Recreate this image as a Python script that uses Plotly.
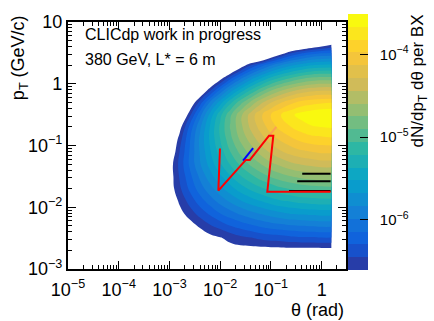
import math
import plotly.graph_objects as go

# ---------------- data ----------------
# grid of the 2D histogram: log10(theta) columns and log10(pT) rows
log_theta = [-3.0, -2.8, -2.6, -2.4, -2.2, -2.0, -1.8, -1.6, -1.4, -1.2,
             -1.0, -0.8, -0.6, -0.4, -0.2, 0.0, 0.196]
log_pt = [0.9, 0.7, 0.5, 0.3, 0.1, -0.1, -0.3, -0.5, -0.7, -0.9,
          -1.1, -1.3, -1.5, -1.7, -1.9, -2.1, -2.3, -2.5, -2.7, -2.9]

# density, in units of colour-band steps above the
# lowest palette level (negative = below threshold, i.e. empty)
density_level = [
    [-5, -5, -5, -5, -5, -5, -5, -5, -5, -5, -5, -5, -5, -5, -5, -5, -5],
    [-5, -5, -5, -5, -5, -5, -5, -5, -5, -5, -5, -5, -5, -4.6, -3.9, -2.8, -1.6],
    [-5, -5, -5, -5, -5, -5, -5, -5, -5, -4.7, -2.5, -0.7, 0.8, 1.8, 2.5, 2.9, 3.0],
    [-5, -5, -5, -5, -5, -5, -3.2, -1.0, 0.9, 2.5, 3.9, 5.0, 5.9, 6.5, 7.0, 7.2, 7.3],
    [-5, -5, -5, -5, -3.3, -0.8, 1.5, 3.5, 5.3, 6.8, 8.1, 9.1, 9.9, 10.6, 11.0, 11.2, 11.2],
    [-5, -5, -5, -2.1, 0.7, 3.1, 5.4, 7.3, 9.0, 10.5, 11.8, 12.8, 13.6, 14.2, 14.6, 14.8, 14.8],
    [-5, -4.7, -1.5, 1.4, 4.1, 6.5, 8.7, 10.6, 12.2, 13.7, 14.9, 15.9, 16.7, 17.3, 17.6, 17.8, 17.9],
    [-5, -2.5, 0.7, 3.6, 6.3, 8.7, 10.8, 12.7, 14.4, 15.8, 17.0, 18.0, 18.8, 19.4, 19.7, 19.9, 20.0],
    [-3.5, -0.5, 2.3, 4.8, 7.1, 9.2, 11.1, 12.7, 14.2, 15.4, 16.5, 17.4, 18.0, 18.5, 18.9, 19.0, 19.1],
    [-2.1, 0.5, 2.9, 5.2, 7.2, 9.0, 10.7, 12.2, 13.4, 14.5, 15.5, 16.2, 16.8, 17.3, 17.6, 17.7, 17.8],
    [-1.4, 1.0, 3.1, 5.1, 6.9, 8.5, 10.0, 11.3, 12.4, 13.4, 14.2, 14.9, 15.4, 15.8, 16.0, 16.2, 16.2],
    [-0.7, 1.3, 3.2, 4.9, 6.4, 7.9, 9.1, 10.2, 11.2, 12.0, 12.8, 13.3, 13.8, 14.1, 14.3, 14.5, 14.5],
    [-0.7, 1.1, 2.7, 4.2, 5.6, 6.8, 7.9, 8.9, 9.7, 10.5, 11.1, 11.6, 12.0, 12.3, 12.5, 12.6, 12.6],
    [-0.7, 0.8, 2.2, 3.5, 4.6, 5.7, 6.6, 7.5, 8.2, 8.8, 9.3, 9.8, 10.1, 10.4, 10.5, 10.6, 10.7],
    [-1.1, 0.2, 1.4, 2.5, 3.5, 4.4, 5.2, 5.9, 6.5, 7.0, 7.5, 7.9, 8.1, 8.4, 8.5, 8.6, 8.6],
    [-1.5, -0.4, 0.5, 1.4, 2.2, 3.0, 3.6, 4.2, 4.7, 5.1, 5.5, 5.8, 6.1, 6.2, 6.3, 6.4, 6.4],
    [-2.1, -1.3, -0.5, 0.2, 0.9, 1.4, 2.0, 2.4, 2.8, 3.2, 3.5, 3.7, 3.9, 4.0, 4.1, 4.2, 4.2],
    [-2.5, -1.9, -1.4, -0.9, -0.4, -0.1, 0.3, 0.7, 0.9, 1.2, 1.4, 1.5, 1.7, 1.8, 1.8, 1.9, 1.9],
    [-3, -3, -3, -3, -3, -3, -0.5, -0.5, -0.5, -0.5, -0.5, -0.5, -0.5, -0.5, -0.5, -0.5, -0.5],
    [-3, -3, -3, -3, -3, -3, -3, -3, -3, -3, -3, -3, -3, -3, -3, -3, -3],
]

# colour-axis range, log10(dN/dpT dtheta per BX)
log_z_min = -6.608
log_z_max = -3.514
n_contours = 20
colorbar_major = [-6, -5, -4]
colorbar_labels = ["10<sup>\u22126</sup>", "10<sup>\u22125</sup>", "10<sup>\u22124</sup>"]

# overlaid lines (theta, pT)
red_theta = [0.0099, 0.0092, 0.032, 0.0384, 0.0918, 0.1114, 0.0849, 1.5]
red_pt = [0.0893, 0.0186, 0.0585, 0.0585, 0.1445, 0.1445, 0.0179, 0.0179]
blue_theta = [0.0283, 0.0445]
blue_pt = [0.0569, 0.0904]
orange_theta = [0.0918, 0.128]
orange_pt = [0.1445, 0.200]
black_theta_start = [0.414, 0.330, 0.227]
black_theta_end = [1.5, 1.5, 1.5]
black_pt = [0.0349, 0.0264, 0.0184]

# ---------------- palette (ROOT kBird) ----------------
stops = [0.0, 0.125, 0.25, 0.375, 0.5, 0.625, 0.75, 0.875, 1.0]
red = [0.2082, 0.0592, 0.0780, 0.0232, 0.1802, 0.5301, 0.8186, 0.9956, 0.9764]
green = [0.1664, 0.3599, 0.5041, 0.6419, 0.7178, 0.7492, 0.7328, 0.7862, 0.9832]
blue = [0.5293, 0.8684, 0.8385, 0.7914, 0.6425, 0.4662, 0.3499, 0.1968, 0.0539]


def bird(f):
    for i in range(len(stops) - 1):
        if f <= stops[i + 1]:
            t = (f - stops[i]) / (stops[i + 1] - stops[i])
            r = red[i] + t * (red[i + 1] - red[i])
            g = green[i] + t * (green[i + 1] - green[i])
            b = blue[i] + t * (blue[i + 1] - blue[i])
            return "rgb(%d,%d,%d)" % (round(r * 255), round(g * 255), round(b * 255))
    return "rgb(249,251,14)"


band_colors = []
for k in range(n_contours):
    idx = int((k + 0.99) * 255 / n_contours)
    band_colors.append(bird(idx / 255))

step = (log_z_max - log_z_min) / n_contours

# contour colourscale: position 0 -> below lowest level (transparent)
contour_scale = [[0.0, "rgba(255,255,255,0)"]]
for k, c in enumerate(band_colors):
    contour_scale.append([(k + 1) / n_contours, c])

bar_scale = []
for k, c in enumerate(band_colors):
    bar_scale.append([k / n_contours, c])
    bar_scale.append([(k + 1) / n_contours, c])

theta = [10 ** u for u in log_theta]
pt = [10 ** v for v in log_pt]
log_z = [[log_z_min + lv * step for lv in row] for row in density_level]

# layout geometry (pixels)
W, H = 434, 321
ML, MR, MT, MB = 68, 88, 15, 52
plot_w = W - ML - MR
plot_h = H - MT - MB
cb_left_px = 348
cb_top_px = 7
cb_len_px = 256
cb_thick = 20
cb_x = (cb_left_px - ML) / plot_w
cb_y_top = (H - MB - cb_top_px) / plot_h

fig = go.Figure()
fig.add_trace(go.Contour(
    x=theta, y=pt, z=log_z,
    autocontour=False,
    contours=dict(start=log_z_min, end=log_z_min + (n_contours - 1) * step,
                  size=step, coloring="fill", showlines=False),
    line=dict(width=0, smoothing=1.3),
    colorscale=contour_scale, showscale=False, hoverinfo="skip",
))

fig.add_trace(go.Scatter(
    x=[None], y=[None], mode="markers", showlegend=False, hoverinfo="skip",
    marker=dict(color=[log_z_min], colorscale=bar_scale, cmin=log_z_min, cmax=log_z_max,
                showscale=True,
                colorbar=dict(thickness=cb_thick, len=cb_len_px, lenmode="pixels",
                              x=cb_x, xanchor="left", y=cb_y_top, yanchor="top",
                              xpad=0, ypad=0, outlinewidth=0,
                              tickmode="array", tickvals=colorbar_major,
                              ticktext=["&nbsp;&nbsp;" + t for t in colorbar_labels],
                              ticks="inside", ticklen=8, tickcolor="black", tickwidth=1,
                              tickfont=dict(family="Liberation Sans", size=15, color="black"))),
))

fig.add_trace(go.Scatter(x=blue_theta, y=blue_pt, mode="lines",
                         line=dict(color="rgb(0,0,255)", width=2), showlegend=False, hoverinfo="skip"))
fig.add_trace(go.Scatter(x=orange_theta, y=orange_pt, mode="lines",
                         line=dict(color="rgba(255,140,100,0.6)", width=2), showlegend=False, hoverinfo="skip"))
for ts, te, p in zip(black_theta_start, black_theta_end, black_pt):
    fig.add_trace(go.Scatter(x=[ts, te], y=[p, p], mode="lines",
                             line=dict(color="black", width=2), showlegend=False, hoverinfo="skip"))
fig.add_trace(go.Scatter(x=red_theta, y=red_pt, mode="lines",
                         line=dict(color="rgb(255,0,0)", width=2), showlegend=False, hoverinfo="skip"))

# minor ticks of the colour bar (drawn at the right edge, pointing inwards)
cb_right = cb_x + cb_thick / plot_w
cb_len_paper = cb_len_px / plot_h
shapes = []
for n in range(-7, -3):
    for m in range(2, 10):
        val = n + math.log10(m)
        if log_z_min < val < log_z_max:
            yp = cb_y_top - cb_len_paper + (val - log_z_min) / (log_z_max - log_z_min) * cb_len_paper
            shapes.append(dict(type="line", xref="paper", yref="paper", xsizemode="pixel",
                               xanchor=cb_right, x0=-4, x1=0, y0=yp, y1=yp,
                               line=dict(color="black", width=1)))

axis_common = dict(
    type="log", dtick=1, exponentformat="power", showexponent="all",
    ticks="inside", ticklen=8, tickcolor="black", tickwidth=1,
    showline=True, linecolor="black", linewidth=1.5, mirror="ticks",
    showgrid=False, zeroline=False,
    tickfont=dict(family="Liberation Sans", size=14.4, color="black"),
    minor=dict(ticks="inside", ticklen=4, dtick="D1", tickcolor="black", showgrid=False),
)

fig.update_layout(
    width=W, height=H,
    margin=dict(l=ML, r=MR, t=MT, b=MB),
    paper_bgcolor="white", plot_bgcolor="white",
    font=dict(family="Liberation Sans", color="black"),
    xaxis=dict(range=[-5, 0.48], ticklabelstandoff=4, **axis_common),
    yaxis=dict(range=[-3, 1], ticklabelstandoff=1, **axis_common),
    shapes=shapes,
    annotations=[
        dict(text="CLICdp work in progress", xref="paper", yref="paper", x=0.054, y=0.949,
             xanchor="left", yanchor="middle", showarrow=False, font=dict(size=16)),
        dict(text="380 GeV, L* = 6 m", xref="paper", yref="paper", x=0.054, y=0.848,
             xanchor="left", yanchor="middle", showarrow=False, font=dict(size=16)),
        dict(text="\u03b8 (rad)", xref="paper", yref="paper", x=1.0, y=-0.165,
             xanchor="right", yanchor="middle", showarrow=False, font=dict(size=18)),
        dict(text="p<sub>T</sub> (GeV/c)", xref="paper", yref="paper", x=-0.176, y=0.854,
             xanchor="center", yanchor="middle", showarrow=False, textangle=-90,
             font=dict(size=18)),
        dict(text="dN/dp<sub>T</sub> d\u03b8 per BX", xref="paper", yref="paper", x=1.264, y=0.761,
             xanchor="center", yanchor="middle", showarrow=False, textangle=-90,
             font=dict(size=17)),
    ],
)

fig.write_html("out.html")
